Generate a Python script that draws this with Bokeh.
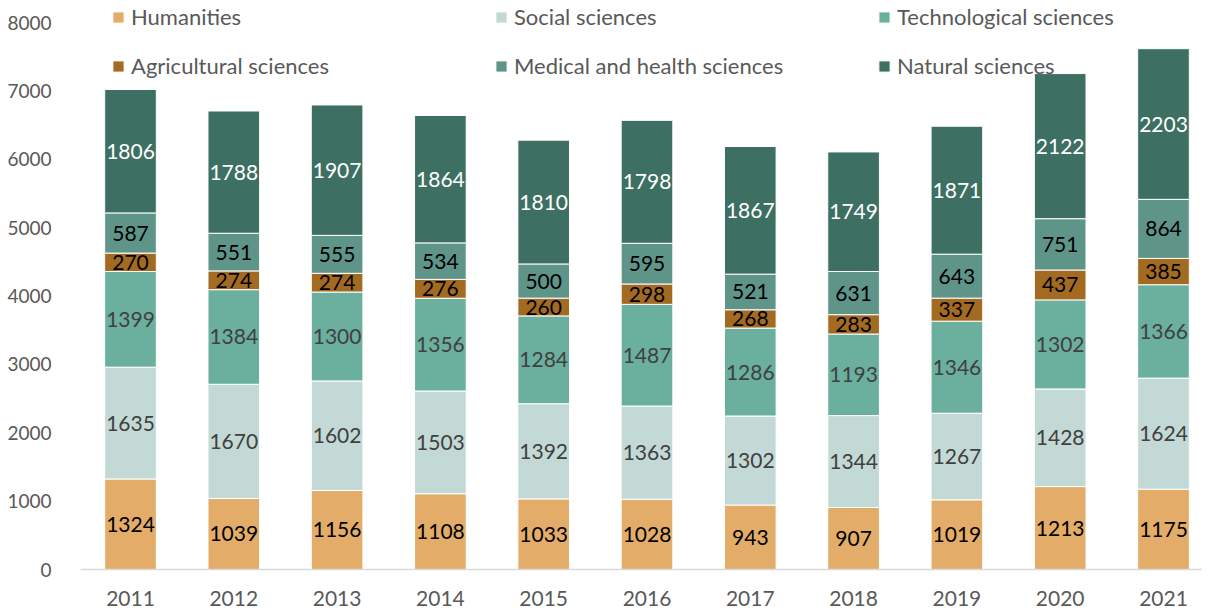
from bokeh.plotting import figure
from bokeh.models import ColumnDataSource, Range1d, FixedTicker, Legend, LegendItem
from bokeh.core.properties import value
from bokeh.embed import file_html
from bokeh.resources import INLINE

years = ["2011", "2012", "2013", "2014", "2015", "2016", "2017", "2018", "2019", "2020", "2021"]
humanities = [1324, 1039, 1156, 1108, 1033, 1028, 943, 907, 1019, 1213, 1175]
social = [1635, 1670, 1602, 1503, 1392, 1363, 1302, 1344, 1267, 1428, 1624]
technological = [1399, 1384, 1300, 1356, 1284, 1487, 1286, 1193, 1346, 1302, 1366]
agricultural = [270, 274, 274, 276, 260, 298, 268, 283, 337, 437, 385]
medical = [587, 551, 555, 534, 500, 595, 521, 631, 643, 751, 864]
natural = [1806, 1788, 1907, 1864, 1810, 1798, 1867, 1749, 1871, 2122, 2203]

series_names = ["Humanities", "Social sciences", "Technological sciences",
                "Agricultural sciences", "Medical and health sciences", "Natural sciences"]
series_vals = [humanities, social, technological, agricultural, medical, natural]
colors = ["#E3AC69", "#C3D9D5", "#6BAF9F", "#A36A21", "#5F9488", "#3D6F62"]
label_colors = ["#000000", "#404040", "#404040", "#000000", "#000000", "#FFFFFF"]

FONT = "Lato"

xs = list(range(len(years)))
data = {"x": xs}
keys = []
for i, vals in enumerate(series_vals):
    k = f"s{i}"
    keys.append(k)
    data[k] = vals
src = ColumnDataSource(data)

p = figure(width=1209, height=616, output_backend="svg", toolbar_location=None,
           x_range=Range1d(-0.484, 10.368), y_range=Range1d(0, 8322),
           min_border_left=80, min_border_right=8, min_border_top=0, min_border_bottom=47)
p.outline_line_color = None
p.grid.grid_line_color = None

renderers = p.vbar_stack(keys, x="x", width=0.5, source=src, color=colors,
                         line_color="white", line_width=1)

# data labels
lx, ly, lt, lc = [], [], [], []
for j in xs:
    base = 0
    for i, vals in enumerate(series_vals):
        v = vals[j]
        lx.append(j)
        ly.append(base + v / 2)
        lt.append(str(v))
        lc.append(label_colors[i])
        base += v
lsrc = ColumnDataSource(dict(x=lx, y=ly, t=lt, c=lc))
p.text(x="x", y="y", text="t", source=lsrc, text_color="c", text_align="center",
       text_baseline="middle", text_font=value(FONT), text_font_size="21px")

# axes
p.yaxis.ticker = FixedTicker(ticks=[0, 1000, 2000, 3000, 4000, 5000, 6000, 7000, 8000])
p.yaxis.axis_line_color = None
p.yaxis.major_tick_line_color = None
p.yaxis.minor_tick_line_color = None
p.yaxis.major_label_text_font = FONT
p.yaxis.major_label_text_font_size = "19px"
p.yaxis.major_label_text_color = "#595959"
p.yaxis.major_label_standoff = 23

p.xaxis.ticker = FixedTicker(ticks=xs)
p.xaxis.major_label_overrides = {i: y for i, y in enumerate(years)}
p.xaxis.axis_line_color = "#D9D9D9"
p.xaxis.axis_line_width = 1.5
p.xaxis.major_tick_line_color = None
p.xaxis.minor_tick_line_color = None
p.xaxis.major_label_text_font = FONT
p.xaxis.major_label_text_font_size = "21px"
p.xaxis.major_label_text_color = "#595959"
p.xaxis.major_label_standoff = 15

items = [LegendItem(label=n, renderers=[r]) for n, r in zip(series_names, renderers)]
legend = Legend(items=items, location=(31, 490), ncols=3, orientation="horizontal",
                glyph_width=14, glyph_height=14, label_height=20, label_width=341,
                label_standoff=6, spacing=22, padding=0, margin=0,
                border_line_color=None, background_fill_alpha=0,
                label_text_font=FONT, label_text_font_size="22px",
                label_text_color="#595959")
p.add_layout(legend, "center")

open("out.html", "w").write(file_html(p, INLINE))
